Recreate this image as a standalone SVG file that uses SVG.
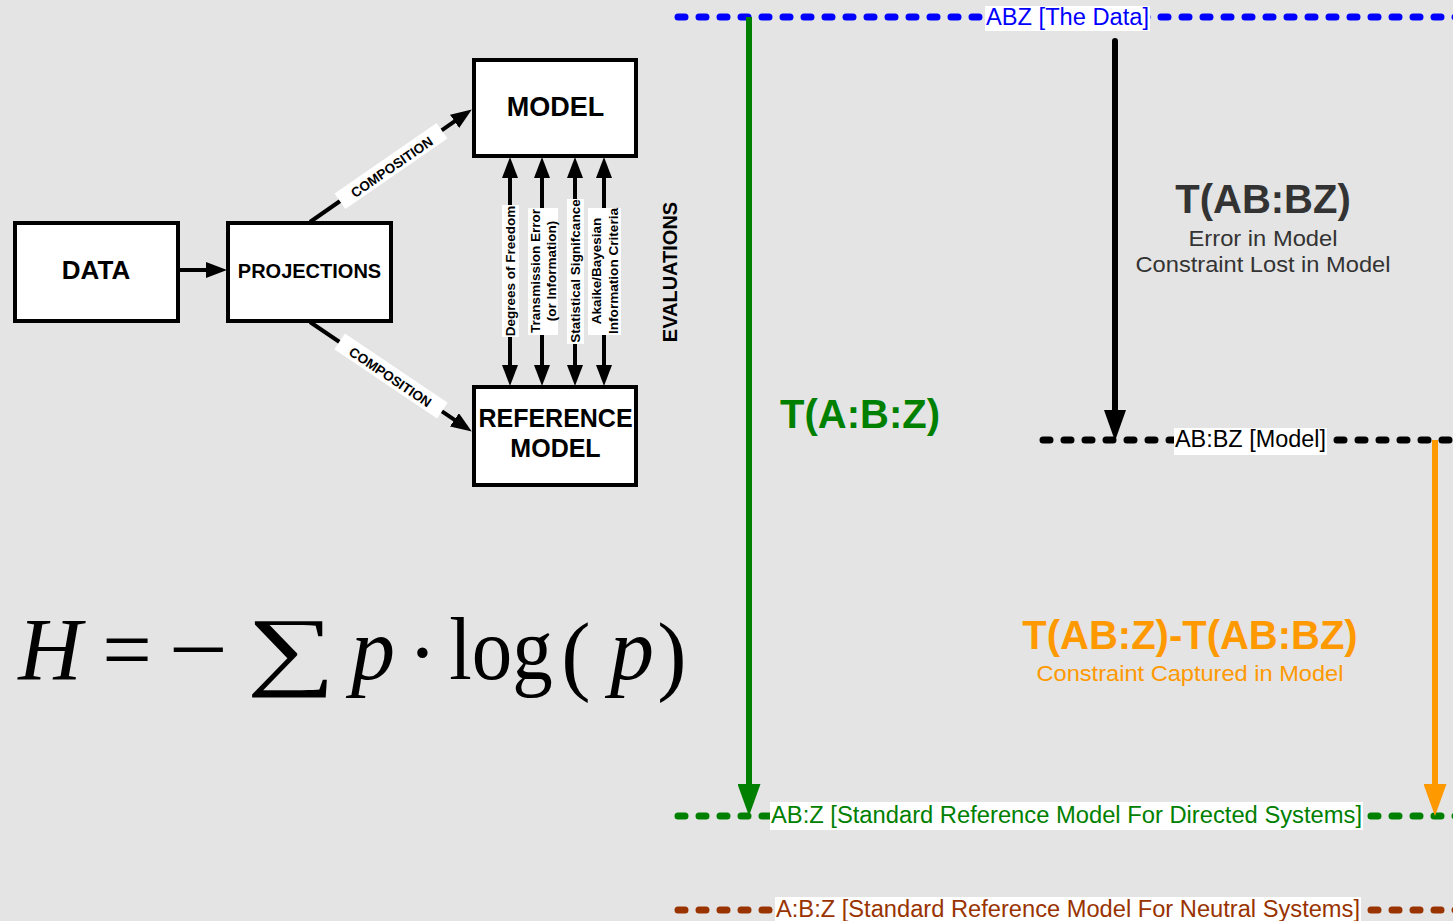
<svg xmlns="http://www.w3.org/2000/svg" width="1453" height="921" viewBox="0 0 1453 921">
<style>
.bx{fill:#fff;stroke:#000;stroke-width:4}
.bt{font-family:"Liberation Sans",Arial,sans-serif;font-weight:bold;fill:#000;text-anchor:middle}
.lab{font-family:"Liberation Sans",Arial,sans-serif;font-weight:bold;font-size:13.5px;fill:#000;text-anchor:middle}
.wb{fill:#fff}
.con{stroke:#000;stroke-width:4;fill:none}
.dot{fill:none;stroke-width:7;stroke-linecap:round;stroke-dasharray:7 14}
.lt{font-family:"Liberation Sans",Arial,sans-serif;font-size:23px}
.big{font-family:"Liberation Sans",Arial,sans-serif;font-weight:bold;font-size:40px;text-anchor:middle}
.sub{font-family:"Liberation Sans",Arial,sans-serif;font-size:22px;text-anchor:middle}
.f{font-family:"Liberation Serif","Times New Roman",serif;font-size:88px;fill:#000;text-anchor:middle}
.fi{font-style:italic}
</style>
<defs>
<marker id="ah" markerUnits="userSpaceOnUse" markerWidth="21" markerHeight="16" refX="10" refY="8" orient="auto-start-reverse"><path d="M0,0 L21,8 L0,16 z" fill="#000"/></marker>
<marker id="ahG" markerUnits="userSpaceOnUse" markerWidth="32" markerHeight="23" refX="16" refY="11.5" orient="auto"><path d="M0,0 L32,11.5 L0,23 z" fill="#008000"/></marker>
<marker id="ahO" markerUnits="userSpaceOnUse" markerWidth="32" markerHeight="23" refX="16" refY="11.5" orient="auto"><path d="M0,0 L32,11.5 L0,23 z" fill="#ff9900"/></marker>
<marker id="ahK" markerUnits="userSpaceOnUse" markerWidth="31" markerHeight="22" refX="15" refY="11" orient="auto"><path d="M0,0 L31,11 L0,22 z" fill="#000"/></marker>
</defs>
<rect x="0" y="0" width="1453" height="921" fill="#e4e4e4"/>

<g id="levels">
<path class="dot" stroke="#0000ff" d="M678,17 H1460"/>
<path class="dot" stroke="#000" d="M1043,440 H1460"/>
<path class="dot" stroke="#008000" d="M678,816 H1460"/>
<path class="dot" stroke="#993300" d="M678,910 H1460"/>
</g>

<g id="connectors">
<path class="con" d="M180,270 H216" marker-end="url(#ah)"/>
<path class="con" d="M310,222 L462.8,115.7" marker-end="url(#ah)"/>
<path class="con" d="M310,322 L462.7,425.4" marker-end="url(#ah)"/>
<path class="con" d="M510,168 V375" marker-start="url(#ah)" marker-end="url(#ah)"/>
<path class="con" d="M542,168 V375" marker-start="url(#ah)" marker-end="url(#ah)"/>
<path class="con" d="M575,168 V375" marker-start="url(#ah)" marker-end="url(#ah)"/>
<path class="con" d="M604,168 V375" marker-start="url(#ah)" marker-end="url(#ah)"/>
<path d="M749,17 V800" stroke="#008000" stroke-width="6" marker-end="url(#ahG)"/>
<path d="M1435,440 V800" stroke="#ff9900" stroke-width="6" marker-end="url(#ahO)"/>
<path d="M1115,41 V425" stroke="#000" stroke-width="6" stroke-linecap="round" marker-end="url(#ahK)"/>
</g>

<g id="connector-labels">
<g transform="translate(391,166) rotate(-34.6)">
<rect class="wb" x="-62" y="-9.5" width="124" height="19"/>
<text class="lab" font-size="16" x="0" y="6">COMPOSITION</text>
</g>
<g transform="translate(391,376) rotate(34)">
<rect class="wb" x="-62" y="-9.5" width="124" height="19"/>
<text class="lab" font-size="16" x="0" y="6">COMPOSITION</text>
</g>
<rect class="wb" x="502" y="205" width="17" height="132"/>
<text class="lab" transform="translate(510,271) rotate(-90)" x="0" y="5">Degrees of Freedom</text>
<rect class="wb" x="528" y="208" width="30" height="127"/>
<text class="lab" transform="translate(543,271) rotate(-90)"><tspan x="0" y="-3">Transmission Error</tspan><tspan x="0" y="13">(or Information)</tspan></text>
<rect class="wb" x="567" y="199" width="17" height="145"/>
<text class="lab" transform="translate(575,271) rotate(-90)" x="0" y="5">Statistical Signifcance</text>
<rect class="wb" x="588" y="208" width="33" height="127"/>
<text class="lab" transform="translate(604.5,271) rotate(-90)"><tspan x="0" y="-3.5">Akaike/Bayesian</tspan><tspan x="0" y="13" textLength="126" lengthAdjust="spacingAndGlyphs">Information Criteria</tspan></text>
<text class="bt" font-size="20" transform="translate(670,272) rotate(-90)" x="0" y="7">EVALUATIONS</text>
</g>

<g id="node-data">
<rect class="bx" x="15" y="223" width="163" height="98"/>
<text class="bt" font-size="26" x="96" y="279">DATA</text>
</g>
<g id="node-projections">
<rect class="bx" x="228" y="223" width="163" height="98"/>
<text class="bt" font-size="20" x="309.5" y="278">PROJECTIONS</text>
</g>
<g id="node-model">
<rect class="bx" x="474" y="60" width="162" height="96"/>
<text class="bt" font-size="27" x="555.5" y="116">MODEL</text>
</g>
<g id="node-reference-model">
<rect class="bx" x="474" y="387" width="162" height="98"/>
<text class="bt" font-size="25" x="555.5" y="427">REFERENCE</text>
<text class="bt" font-size="25" x="555.5" y="457">MODEL</text>
</g>

<g id="level-labels">
<rect class="wb" x="985" y="6" width="165" height="25"/>
<text class="lt" fill="#0000ff" x="986" y="25" textLength="163" lengthAdjust="spacingAndGlyphs">ABZ [The Data]</text>
<rect class="wb" x="1174" y="428" width="153" height="27"/>
<text class="lt" fill="#000" font-size="22" x="1175" y="447" textLength="151" lengthAdjust="spacingAndGlyphs">AB:BZ [Model]</text>
<rect class="wb" x="770" y="802" width="593" height="28"/>
<text class="lt" fill="#008000" x="771" y="823" textLength="591" lengthAdjust="spacingAndGlyphs">AB:Z [Standard Reference Model For Directed Systems]</text>
<rect class="wb" x="775" y="897" width="586" height="24"/>
<text class="lt" fill="#993300" x="776" y="917" textLength="584" lengthAdjust="spacingAndGlyphs">A:B:Z [Standard Reference Model For Neutral Systems]</text>
</g>

<g id="measure-labels">
<text class="big" fill="#008000" x="860" y="428">T(A:B:Z)</text>
<text class="big" fill="#333333" x="1263" y="213">T(AB:BZ)</text>
<text class="sub" fill="#333333" x="1263" y="246" textLength="149" lengthAdjust="spacingAndGlyphs">Error in Model</text>
<text class="sub" fill="#333333" x="1263" y="272" textLength="255" lengthAdjust="spacingAndGlyphs">Constraint Lost in Model</text>
<text class="big" fill="#ff9900" x="1190" y="649">T(AB:Z)-T(AB:BZ)</text>
<text class="sub" fill="#ff9900" x="1190" y="681" textLength="307" lengthAdjust="spacingAndGlyphs">Constraint Captured in Model</text>
</g>

<g id="formula">
<text class="f fi" x="50" y="679">H</text>
<text class="f" x="127" y="679">=</text>
<text class="f" transform="translate(198.5,679) scale(1.2,1)">−</text>
<text class="f" transform="translate(291,679) scale(1.42,1)">∑</text>
<text class="f fi" x="373" y="679">p</text>
<text class="f" x="422.5" y="682">·</text>
<text class="f" transform="translate(501,679) scale(0.92,1)">log</text>
<text class="f" font-size="98" x="576" y="684">(</text>
<text class="f fi" x="632" y="679">p</text>
<text class="f" font-size="98" x="672" y="684">)</text>
</g>
</svg>
